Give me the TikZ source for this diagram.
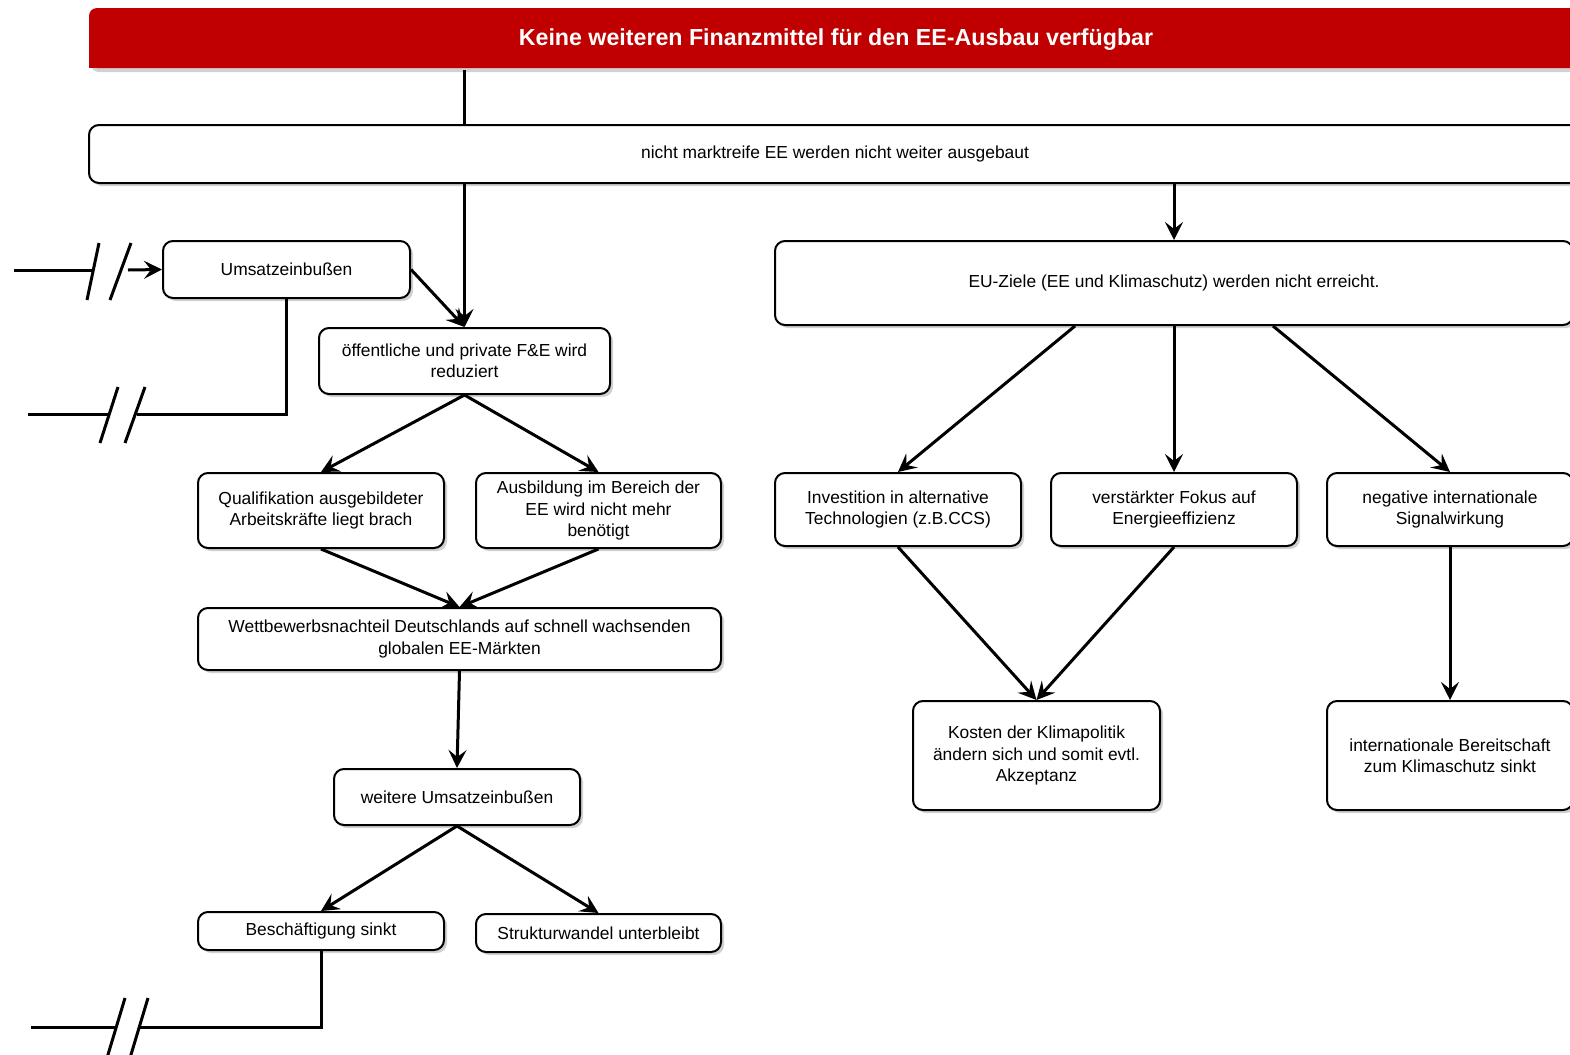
\documentclass[tikz,border=0pt]{standalone}
\usepackage{fontspec}
\setmainfont{Liberation Sans}
\usetikzlibrary{arrows.meta,shadows,calc}
\definecolor{hdrred}{HTML}{C00000}
\begin{document}
\begin{tikzpicture}[x=0.5pt,y=-0.5pt,
  box/.style={draw=black, line width=1pt, rounded corners=5pt, fill=white, align=center,
    font=\fontsize{8.7}{10.6}\selectfont, inner sep=2pt,
    drop shadow={shadow xshift=1.5pt,shadow yshift=-1.5pt,opacity=0.3,fill=black!60}},
  sz/.style 2 args={minimum width=#1*0.5pt, minimum height=#2*0.5pt},
  con/.style={line width=1.5pt, -{Stealth[length=9pt,width=9pt,inset=3.5pt]}},
  plain/.style={line width=1.5pt},
]
\useasboundingbox (0,0) rectangle (1570,1055);
\clip (0,0) rectangle (1570,1055);

% header
\fill[hdrred, rounded corners=4pt, drop shadow={shadow xshift=1pt,shadow yshift=-2pt,opacity=0.3,fill=black!60}] (89,8) rectangle (1583,68);
\fill[hdrred] (89,40) rectangle (130,68);
\node[font=\bfseries\fontsize{11.6}{13}\selectfont, text=white, minimum width=1494*0.5pt, minimum height=60*0.5pt, inner sep=0pt] (hdr) at (836,39.5) {Keine weiteren Finanzmittel für den EE-Ausbau verfügbar};

% nodes
\node[box, sz={1492}{58}] (top) at (835,154) {nicht marktreife EE werden nicht weiter ausgebaut};
\node[box, sz={247}{57}] (ums) at (286.5,269.5) {Umsatzeinbußen};
\node[box, sz={291}{66}] (fe) at (464.5,361) {öffentliche und private F\&E wird\\reduziert};
\node[box, sz={246}{75}] (qual) at (321,510.5) {Qualifikation ausgebildeter\\Arbeitskräfte liegt brach};
\node[box, sz={245}{75}] (aus) at (598.5,510.5) {Ausbildung im Bereich der\\EE wird nicht mehr\\benötigt};
\node[box, sz={523}{62}] (wett) at (459.5,639) {Wettbewerbsnachteil Deutschlands auf schnell wachsenden\\globalen EE-Märkten};
\node[box, sz={246}{56}] (weit) at (457,797) {weitere Umsatzeinbußen};
\node[box, sz={246}{38}] (besch) at (321,931) {Beschäftigung sinkt};
\node[box, sz={245}{38}] (struk) at (598.5,933) {Strukturwandel unterbleibt};

\node[box, sz={798}{84}] (eu) at (1174,283) {EU-Ziele (EE und Klimaschutz) werden nicht erreicht.};
\node[box, sz={246}{73}] (inv) at (898,509.5) {Investition in alternative\\Technologien (z.B.CCS)};
\node[box, sz={246}{73}] (verst) at (1174,509.5) {verstärkter Fokus auf\\Energieeffizienz};
\node[box, sz={246}{73}] (neg) at (1450,509.5) {negative internationale\\Signalwirkung};
\node[box, sz={247}{109}] (kost) at (1036.5,755.5) {Kosten der Klimapolitik\\ändern sich und somit evtl.\\Akzeptanz};
\node[box, sz={246}{109}] (intl) at (1450,755.5) {internationale Bereitschaft\\zum Klimaschutz sinkt};

% connectors
\draw[plain] (hdr.south -| fe.north) -- (top.north -| fe.north);
\draw[con] (top.south -| fe.north) -- (fe.north);
\draw[con] (top.south -| eu.north) -- (eu.north);
\draw[con] (ums.east) -- (fe.north);
\draw[con] (fe.south) -- (qual.north);
\draw[con] (fe.south) -- (aus.north);
\draw[con] (qual.south) -- (wett.north);
\draw[con] (aus.south) -- (wett.north);
\draw[con] (wett.south) -- (weit.north);
\draw[con] (weit.south) -- (besch.north);
\draw[con] (weit.south) -- (struk.north);

\draw[con] ([xshift=-49.5pt]eu.south) -- (inv.north);
\draw[con] (eu.south) -- (verst.north);
\draw[con] ([xshift=49.5pt]eu.south) -- (neg.north);
\draw[con] (inv.south) -- (kost.north);
\draw[con] (verst.south) -- (kost.north);
\draw[con] (neg.south) -- (intl.north);

% break into Umsatzeinbussen
\coordinate (u1) at (14,270);
\coordinate (u2) at (93,270);
\coordinate (u3) at (128,270);
\draw[plain] (u1) -- (u2);
\draw[plain] (87,300) -- (99,243);
\draw[plain] (110,300) -- (131,243);
\draw[con] (u3) -- (ums.west);

% break from Umsatzeinbussen
\coordinate (v1) at (137,414);
\coordinate (v2) at (109,414);
\coordinate (v3) at (28,414);
\draw[plain] (ums.south) |- (v1);
\draw[plain] (100,443) -- (118,387);
\draw[plain] (125,443) -- (145,387);
\draw[plain] (v2) -- (v3);

% break from Beschaeftigung
\coordinate (w1) at (138,1027);
\coordinate (w2) at (116,1027);
\coordinate (w3) at (31,1027);
\draw[plain] (besch.south) |- (w1);
\draw[plain] (107,1058) -- (125,998);
\draw[plain] (130,1058) -- (148,998);
\draw[plain] (w2) -- (w3);
\end{tikzpicture}
\end{document}
